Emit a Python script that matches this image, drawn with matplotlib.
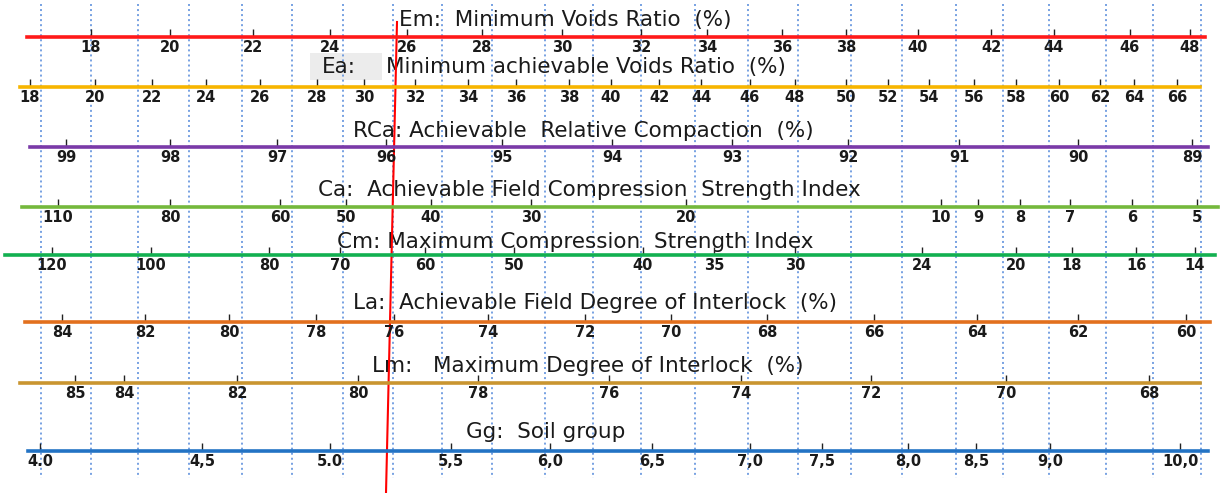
import matplotlib
matplotlib.use("Agg")
import matplotlib.pyplot as plt

W, H = 1221, 493

# scale values and their positions along the horizontal (pixel units of the chart)
em_labels = ["18", "20", "22", "24", "26", "28", "30", "32", "34", "36", "38", "40", "42", "44", "46", "48"]
em_pos = [91, 170, 253, 330, 407, 482, 562, 641, 707, 782, 846, 918, 991, 1054, 1130, 1190]

ea_labels = ["18", "20", "22", "24", "26", "28", "30", "32", "34", "36", "38", "40", "42",
             "44", "46", "48", "50", "52", "54", "56", "58", "60", "62", "64", "66"]
ea_pos = [30, 95, 152, 206, 260, 317, 364, 415, 468, 516, 569, 611, 659,
          701, 750, 795, 846, 888, 929, 974, 1016, 1059, 1100, 1134, 1177]

rca_labels = ["99", "98", "97", "96", "95", "94", "93", "92", "91", "90", "89"]
rca_pos = [66, 170, 277, 386, 502, 612, 732, 848, 959, 1078, 1192]

ca_labels = ["110", "80", "60", "50", "40", "30", "20", "10", "9", "8", "7", "6", "5"]
ca_pos = [58, 170, 280, 346, 431, 531, 686, 941, 978, 1020, 1070, 1132, 1197]

cm_labels = ["120", "100", "80", "70", "60", "50", "40", "35", "30", "24", "20", "18", "16", "14"]
cm_pos = [52, 151, 269, 340, 425, 514, 643, 714, 795, 922, 1016, 1072, 1136, 1195]

la_labels = ["84", "82", "80", "78", "76", "74", "72", "70", "68", "66", "64", "62", "60"]
la_pos = [62, 145, 229, 316, 394, 488, 585, 671, 767, 874, 977, 1078, 1186]

lm_labels = ["85", "84", "82", "80", "78", "76", "74", "72", "70", "68"]
lm_pos = [75, 124, 237, 358, 478, 609, 741, 871, 1006, 1149]

gg_labels = ["4.0", "4,5", "5.0", "5,5", "6,0", "6,5", "7,0", "7,5", "8,0", "8,5", "9,0", "10,0"]
gg_pos = [40, 202, 330, 451, 550, 652, 750, 822, 908, 976, 1050, 1180]

grid_x = [41, 91, 138, 189, 242, 292, 343, 393, 442, 492, 545, 593,
          641, 695, 748, 798, 851, 902, 956, 1003, 1049, 1106, 1153, 1201]

# rows: labels, positions, line colour, line start/end, line y, title, title centre x, title y
rows = [
    (em_labels, em_pos, "#ff1a1a", 27, 1205, 37, "Em:  Minimum Voids Ratio  (%)", 565, 20),
    (ea_labels, ea_pos, "#f7b500", 20, 1200, 87, None, None, 67),
    (rca_labels, rca_pos, "#7a3aa8", 30, 1208, 147, "RCa: Achievable  Relative Compaction  (%)", 583, 131),
    (ca_labels, ca_pos, "#74b83c", 22, 1218, 207, "Ca:  Achievable Field Compression  Strength Index", 589, 190),
    (cm_labels, cm_pos, "#12b050", 5, 1215, 255, "Cm: Maximum Compression  Strength Index", 575, 242),
    (la_labels, la_pos, "#e2701e", 25, 1210, 322, "La:  Achievable Field Degree of Interlock  (%)", 595, 303),
    (lm_labels, lm_pos, "#c99530", 20, 1200, 383, "Lm:   Maximum Degree of Interlock  (%)", 588, 366),
    (gg_labels, gg_pos, "#2373c4", 28, 1208, 451, "Gg:  Soil group", 546, 432),
]

title_font = ["DejaVu Sans"]
tick_font = ["DejaVu Sans"]
title_size = 15.5

fig = plt.figure(figsize=(W / 100, H / 100), dpi=100)
bg = fig.add_axes([0, 0, 1, 1])
bg.set_xlim(0, W)
bg.set_ylim(H, 0)
bg.axis("off")

bg.vlines(grid_x, 4, 478, colors="#5288da", linestyles=(0, (1.3, 2.0)), lw=1.1, zorder=1)

for labels, pos, color, x0, x1, y, title, tx, ty in rows:
    ax = fig.add_axes([0, 1 - y / H, 1, 0.0001])
    ax.set_xlim(0, W)
    ax.set_facecolor("none")
    for side in ["left", "right", "top"]:
        ax.spines[side].set_visible(False)
    ax.spines["bottom"].set_color(color)
    ax.spines["bottom"].set_linewidth(2.6)
    ax.spines["bottom"].set_bounds(x0, x1)
    ax.set_yticks([])
    ax.set_xticks(pos, labels)
    ax.tick_params(axis="x", direction="in", length=6, width=1, color="#222222", pad=2,
                   labelsize=10.5)
    for t in ax.get_xticklabels():
        t.set_fontfamily(tick_font)
        t.set_fontweight("bold")
        t.set_color("#1a1a1a")
    if title:
        bg.text(tx, ty, title, ha="center", va="center", fontsize=title_size,
                family=title_font, color="#1a1a1a")

# Ea title with the grey patch behind its code
bg.add_patch(plt.Rectangle((310, 53), 72, 27, fc="#ececec", ec="none", zorder=0))
bg.text(322, 67, "Ea:", ha="left", va="center", fontsize=title_size, family=title_font,
        color="#1a1a1a")
bg.text(386, 67, "Minimum achievable Voids Ratio  (%)", ha="left", va="center",
        fontsize=title_size, family=title_font, color="#1a1a1a")

# reading line
bg.plot([397, 386], [22, 493], color="#ff0000", lw=1.5, zorder=10)

fig.savefig("out.png", dpi=100)
